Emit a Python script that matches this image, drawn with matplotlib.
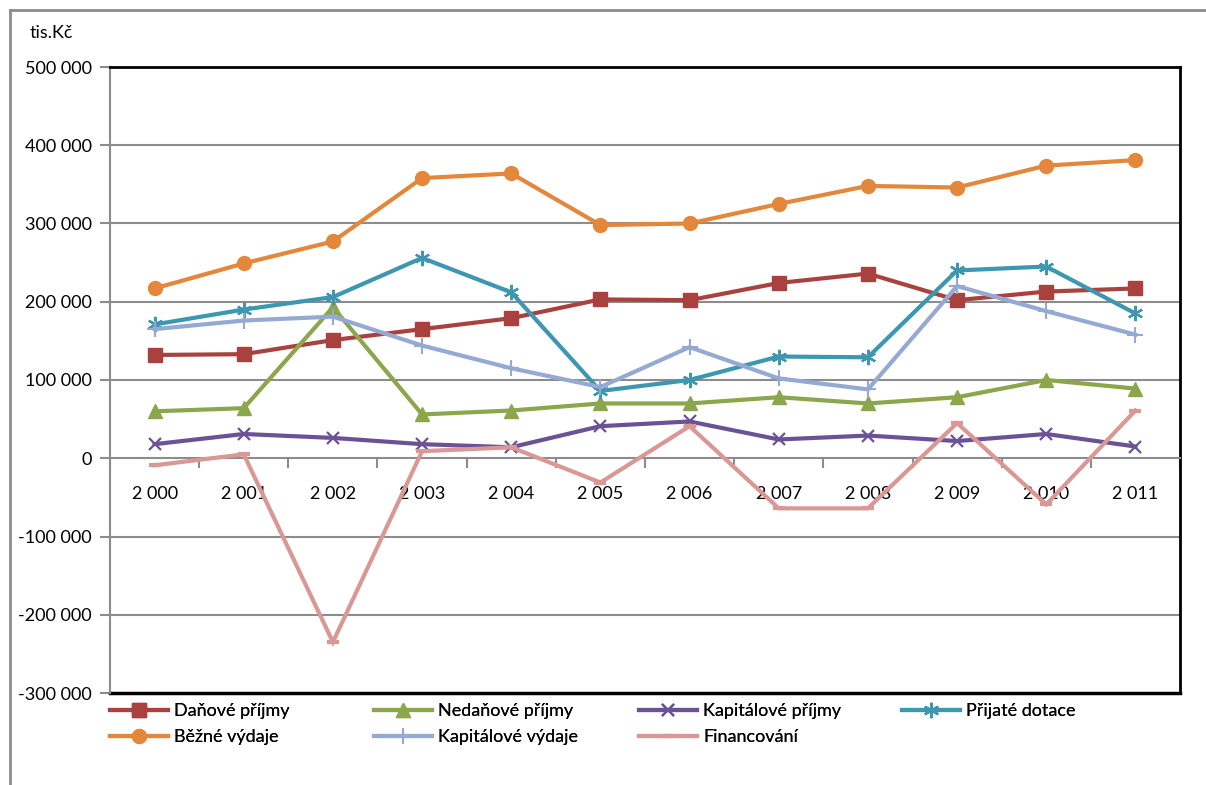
import matplotlib.pyplot as plt
from matplotlib.lines import Line2D
import numpy as np

plt.rcParams['font.family'] = ['Lato', 'DejaVu Sans']

years = [2000, 2001, 2002, 2003, 2004, 2005, 2006, 2007, 2008, 2009, 2010, 2011]

danove = [132000, 133000, 151000, 165000, 179000, 203000, 202000, 224000, 236000, 202000, 213000, 217000]
nedanove = [60000, 64000, 193000, 56000, 61000, 70000, 70000, 78000, 70000, 78000, 100000, 89000]
kap_prijmy = [18000, 31000, 26000, 18000, 14000, 41000, 47000, 24000, 29000, 22000, 31000, 15000]
dotace = [171000, 190000, 206000, 256000, 212000, 86000, 100000, 130000, 129000, 240000, 245000, 185000]
bezne = [217000, 249000, 277000, 358000, 364000, 298000, 300000, 325000, 348000, 346000, 374000, 381000]
kap_vydaje = [165000, 176000, 181000, 144000, 115000, 91000, 142000, 102000, 88000, 220000, 188000, 158000]
financovani = [-9000, 5000, -235000, 9000, 14000, -31000, 41000, -64000, -64000, 45000, -59000, 61000]

# label, values, colour, marker, marker size, marker edge width
series = [
    ("Daňové příjmy", danove, "#A9423F", "s", 10, 1),
    ("Nedaňové příjmy", nedanove, "#8BA64B", "^", 10, 1),
    ("Kapitálové příjmy", kap_prijmy, "#6B5195", "x", 9, 1.6),
    ("Přijaté dotace", dotace, "#3D97B0", (6, 2, 0), 11, 1.6),
    ("Běžné výdaje", bezne, "#E4873A", "o", 10, 1),
    ("Kapitálové výdaje", kap_vydaje, "#95AAD2", "+", 11, 1.5),
    ("Financování", financovani, "#D99795", "_", 9, 3),
]

fig = plt.figure(figsize=(12.06, 7.85), dpi=100)
ax = fig.add_axes([110 / 1206, 1 - 693 / 785, 1070 / 1206, 626 / 785])

x = np.arange(len(years))
handles = {}
for label, vals, color, marker, ms, mew in series:
    ln, = ax.plot(x, vals, color=color, lw=3, marker=marker, markersize=ms,
                  markeredgewidth=mew, markeredgecolor=color, markerfacecolor=color,
                  label=label, zorder=3, solid_joinstyle='miter')
    handles[label] = ln

ax.set_xlim(-0.5, len(years) - 0.5)
ax.set_ylim(-300000, 500000)

yticks = np.arange(-300000, 500001, 100000)
ax.set_yticks(yticks)
ax.set_yticklabels([f"{int(v):,}".replace(",", " ") for v in yticks])
for v in yticks:
    if v not in (-300000, 500000, 0):
        ax.axhline(v, color="#8c8c8c", lw=1.5, zorder=1)

ax.set_xticks(x)
ax.set_xticks(np.arange(-0.5, len(years)), minor=True)
ax.set_xticklabels([f"{y:,}".replace(",", " ") for y in years])
ax.tick_params(axis='x', which='major', length=0, pad=20, labelsize=13)
ax.tick_params(axis='x', which='minor', length=7, width=1.5, color="#8c8c8c", direction='out')
ax.tick_params(axis='y', length=7, width=1.5, color="#8c8c8c", pad=6, labelsize=13)

ax.spines['bottom'].set_position(('data', 0))
ax.spines['bottom'].set_color("#8c8c8c")
ax.spines['bottom'].set_linewidth(1.5)
ax.spines['left'].set_color("#8c8c8c")
ax.spines['left'].set_linewidth(1.5)
ax.spines['top'].set_color("black")
ax.spines['top'].set_linewidth(2)
ax.spines['right'].set_color("black")
ax.spines['right'].set_linewidth(2)
ax.axhline(-300000, color="black", lw=2.5, zorder=2, clip_on=False)

fig.text(30 / 1206, 1 - 33 / 785, "tis.Kč", fontsize=13, va='center', ha='left')

# legend, one column at a time
columns = [
    (110, ["Daňové příjmy", "Běžné výdaje"]),
    (374, ["Nedaňové příjmy", "Kapitálové výdaje"]),
    (639, ["Kapitálové příjmy", "Financování"]),
    (902, ["Přijaté dotace"]),
]
for cx, labels in columns:
    leg = fig.legend([handles[l] for l in labels], labels, loc='upper left',
                     bbox_to_anchor=(cx / 1206, 1 - 703 / 785), frameon=False,
                     fontsize=13, handlelength=3.2, handletextpad=0.35,
                     borderpad=0, borderaxespad=0, labelspacing=0.55)
    fig.add_artist(leg)

# outer chart frame
fig.add_artist(Line2D([10 / 1206, 10 / 1206], [0, 1 - 10 / 785], color="#8c8c8c", lw=2))
fig.add_artist(Line2D([10 / 1206, 1], [1 - 10 / 785, 1 - 10 / 785], color="#8c8c8c", lw=2))

fig.savefig("out.png", dpi=100)
